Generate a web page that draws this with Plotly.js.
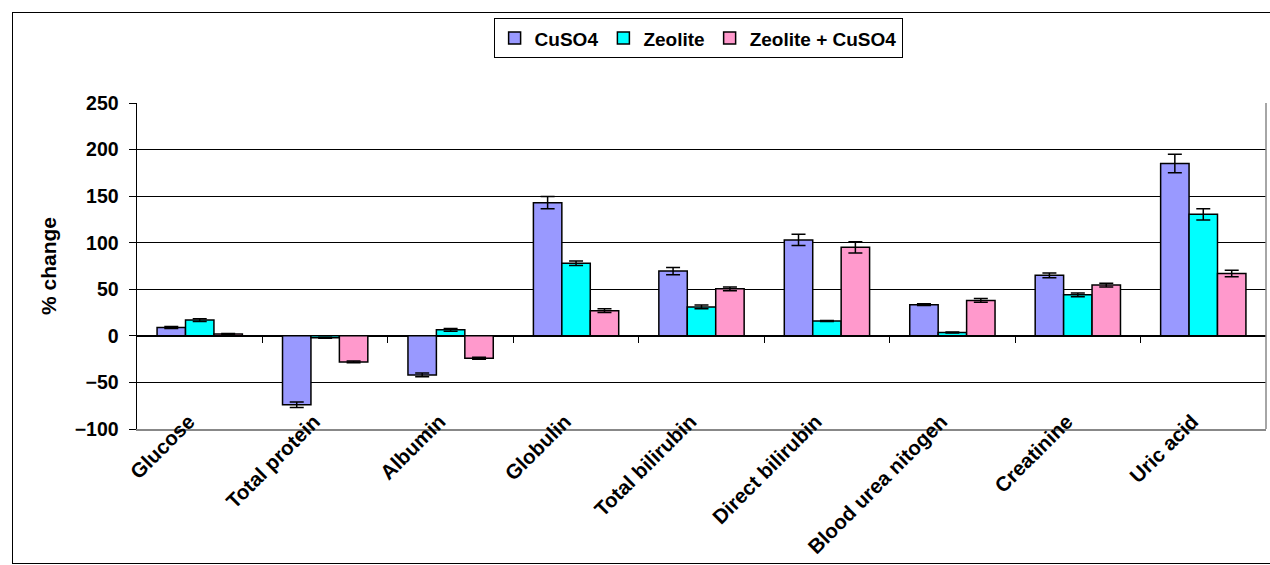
<!DOCTYPE html>
<html>
<head>
<meta charset="utf-8">
<script src="https://cdn.plot.ly/plotly-3.0.1.min.js"></script>
<style>
html,body{margin:0;padding:0;background:#fff;}
#wrap{position:relative;width:1270px;height:565px;}
#chart{position:absolute;left:0;top:0;width:1270px;height:565px;}
#frame{position:absolute;left:12px;top:12px;width:1262px;height:550px;border:1.5px solid #000;pointer-events:none;}
</style>
</head>
<body>
<div id="wrap"><div id="chart"></div><div id="frame"></div></div>
<script>
const categories = ["Glucose","Total protein","Albumin","Globulin","Total bilirubin","Direct bilirubin","Blood urea nitogen","Creatinine","Uric acid"];
const seriesNames = ["CuSO4","Zeolite","Zeolite + CuSO4"];
const cuso4 = [9, -74, -42, 143, 69.5, 103, 33.5, 65, 185];
const cuso4Err = [1, 3, 2, 6.5, 4, 6, 1, 2.5, 10];
const zeolite = [17, -2, 6.5, 78, 31, 16, 3.6, 44, 130.5];
const zeoliteErr = [1.5, 0.5, 1.5, 2.5, 2, 0.5, 0.5, 2, 6];
const zeoCu = [2, -28, -24, 27, 50.5, 95, 38, 54.5, 67];
const zeoCuErr = [0.5, 1, 1, 2, 2, 6, 2, 2, 3.5];
const colors = ["#9999FF","#00FFFF","#FF99CC"];
const yTicks = [-100,-50,0,50,100,150,200,250];
const boundaries = [0.5,1.5,2.5,3.5,4.5,5.5,6.5,7.5];

const vals = [cuso4, zeolite, zeoCu];
const errs = [cuso4Err, zeoliteErr, zeoCuErr];
const idx = categories.map((c,i)=>i);

const traces = seriesNames.map((n,k)=>({
  type:'bar', name:n, x: idx, y: vals[k],
  marker:{color:colors[k], line:{color:'#000', width:1.5}},
  error_y:{type:'data', array: errs[k], visible:true, color:'#000', thickness:1.5, width:7},
  hoverinfo:'y'
}));

const fam = '"Liberation Sans", Arial, sans-serif';
const bf = (s)=>({family:fam, size:s, color:'#000', weight:'bold'});

const layout = {
  width:1270, height:565,
  margin:{l:137, r:4, t:103, b:136},
  paper_bgcolor:'rgba(0,0,0,0)', plot_bgcolor:'#fff',
  font: bf(19),
  barmode:'group', bargap:0.32, bargroupgap:0,
  showlegend:true,
  legend:{orientation:'h', x:0.497, xanchor:'center', y:1.26, yanchor:'top',
    bordercolor:'#000', borderwidth:1, bgcolor:'#fff',
    font:bf(19), itemwidth:30, traceorder:'normal'},
  xaxis:{type:'linear', range:[-0.5,8.5], tickmode:'array', tickvals: idx, ticktext: categories,
    tickangle:-45, ticks:'', showgrid:false, zeroline:false,
    showline:true, linecolor:'#888', linewidth:1.5, mirror:false,
    ticklabelstandoff:-29, ticklabelshift:-11,
    tickfont:bf(20.5), fixedrange:true},
  xaxis2:{type:'linear', range:[-0.5,8.5], overlaying:'x', anchor:'free', position:100/350,
    side:'bottom', tickmode:'array', tickvals: boundaries, ticks:'outside', ticklen:6, tickwidth:1,
    tickcolor:'#000', showticklabels:false, showgrid:false, zeroline:false, showline:false},
  yaxis:{range:[-100,250], tickmode:'array', tickvals: yTicks, ticks:'outside', ticklen:7,
    tickcolor:'#000', showgrid:true, gridcolor:'#000', gridwidth:1,
    zeroline:true, zerolinecolor:'#000', zerolinewidth:1.5,
    showline:true, linecolor:'#000', linewidth:1.5, ticklabelstandoff:6,
    tickfont:bf(19.5),
    title:{text:'% change', font:bf(21), standoff:12}},
  shapes:[{type:'line', xref:'paper', yref:'paper', x0:1, x1:1, y0:0, y1:1, line:{color:'#888', width:1.5}}]
};

traces.push({type:'scatter', x:[0], y:[0], xaxis:'x2', mode:'markers', marker:{opacity:0}, showlegend:false, hoverinfo:'skip'});

Plotly.newPlot('chart', traces, layout, {displayModeBar:false, staticPlot:true});
</script>
</body>
</html>
